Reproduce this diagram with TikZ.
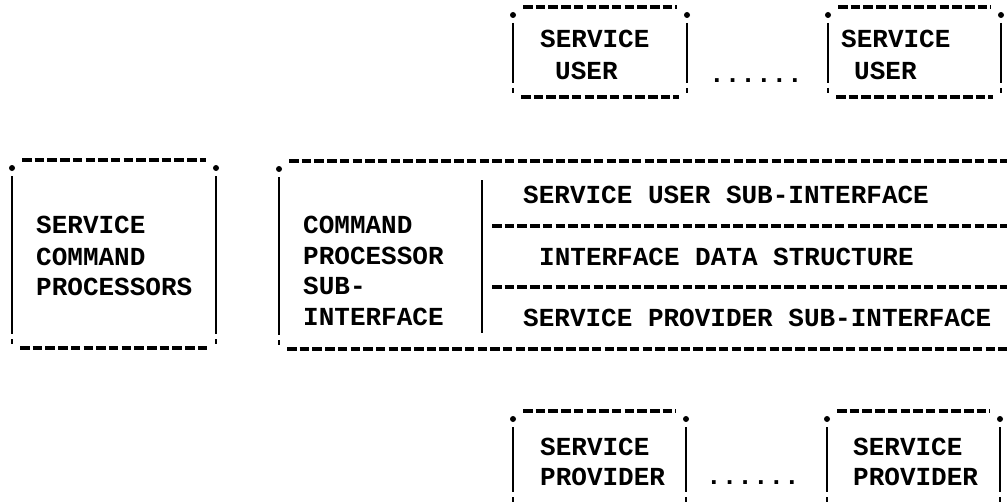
\documentclass[tikz,border=0pt]{standalone}
\usepackage{fontspec}
\newfontfamily\typer{Liberation Mono}
\tikzset{ holder/.style = { rectangle % box outline holder
        , draw = none
        , inner sep = 0pt
        , outer sep = 0pt
        }
        , typed/.style = { anchor = base west % typewriter text
        , inner sep = 0pt
        , font = \typer\bfseries\fontsize{26}{30}\selectfont
        }
        , dashrule/.style = { line width = 3.4pt % row of hyphens
        , dash pattern = on 9.5pt off 3.2pt
        }
        , siderule/.style = { line width = 2pt % row of bars
        }
        }

\begin{document}
\begin{tikzpicture}[x=1pt, y=-1pt]
        \useasboundingbox (0,0) rectangle (1007,503);
        \clip (0,0) rectangle (1007,503);

        \node [holder, minimum width=174, minimum height=76](user1) at (600,53) {};
        \node [holder, minimum width=173, minimum height=76](user2) at (914.5,53) {};
        \node [holder, minimum width=204, minimum height=174](cmdproc) at (114,255) {};
        \node [holder, minimum width=751, minimum height=174](iface) at (654.5,256) {};
        \node [holder, minimum width=173, minimum height=81](prov1) at (599.5,459.5) {};
        \node [holder, minimum width=173, minimum height=81](prov2) at (913.5,459.5) {};

        \foreach \b in {user1,user2,cmdproc,iface,prov1,prov2}{
            \draw [dashrule] ([xshift=10pt,yshift=8pt]\b.north west) -- ([xshift=-10pt,yshift=8pt]\b.north east);
            \draw [dashrule] ([xshift=8pt,yshift=-6pt]\b.south west) -- ([xshift=-8pt,yshift=-6pt]\b.south east);
            \fill (\b.north west) circle (3pt) (\b.north east) circle (3pt);
            \draw [siderule] ([yshift=-8pt]\b.north west) -- ([yshift=8pt]\b.south west)
                             ([yshift=-8pt]\b.north east) -- ([yshift=8pt]\b.south east);
            \draw [line width=2.6pt] ([yshift=3pt]\b.south west) -- ([yshift=-2pt]\b.south west)
                                     ([yshift=3pt]\b.south east) -- ([yshift=-2pt]\b.south east);
        }

        % inside of the interface box
        \coordinate (divtop) at (482,180);
        \coordinate (divbot) at (482,333);
        \coordinate (row1w) at (492,226);
        \coordinate (row2w) at (492,287);
        \draw [siderule] (divtop) -- (divbot);
        \draw [dashrule] (row1w) -- (row1w -| iface.east);
        \draw [dashrule] (row2w) -- (row2w -| iface.east);

        \node [typed](u1a) at (540,48) {SERVICE};
        \node [typed](u1b) at (555,80) {USER};
        \node [typed](u2a) at (841,48) {SERVICE};
        \node [typed](u2b) at (854,80) {USER};
        \node [typed](udots) at (709,82) {......};

        \node [typed](c1) at (36,233) {SERVICE};
        \node [typed](c2) at (36,265) {COMMAND};
        \node [typed](c3) at (36,295) {PROCESSORS};

        \node [typed](p1) at (303,233) {COMMAND};
        \node [typed](p2) at (303,264) {PROCESSOR};
        \node [typed](p3) at (303,294) {SUB-};
        \node [typed](p4) at (303,325) {INTERFACE};

        \node [typed](r1) at (523,203) {SERVICE USER SUB-INTERFACE};
        \node [typed](r2) at (539,265) {INTERFACE DATA STRUCTURE};
        \node [typed](r3) at (523,326) {SERVICE PROVIDER SUB-INTERFACE};

        \node [typed](v1a) at (540,455) {SERVICE};
        \node [typed](v1b) at (540,485) {PROVIDER};
        \node [typed](v2a) at (853,455) {SERVICE};
        \node [typed](v2b) at (853,485) {PROVIDER};
        \node [typed](pdots) at (706,484) {......};
\end{tikzpicture}
\end{document}
